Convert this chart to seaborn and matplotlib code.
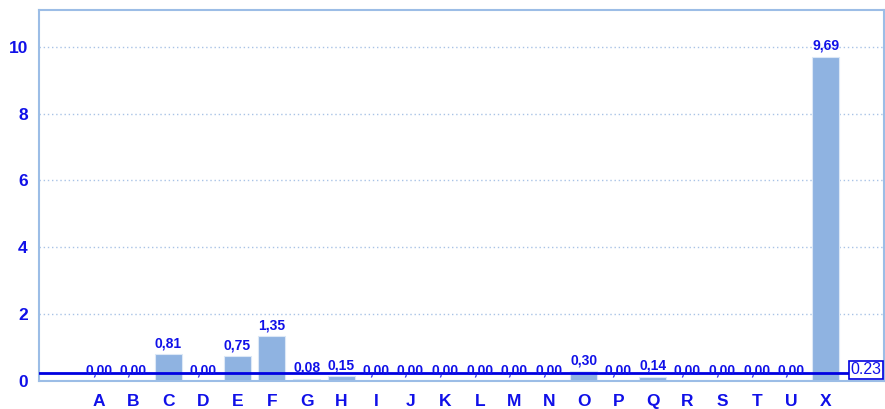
import matplotlib
matplotlib.use("Agg")
import matplotlib.pyplot as plt
import seaborn as sns
import pandas as pd

categories = ["A", "B", "C", "D", "E", "F", "G", "H", "I", "J", "K",
              "L", "M", "N", "O", "P", "Q", "R", "S", "T", "U", "X"]
values = [0.00, 0.00, 0.81, 0.00, 0.75, 1.35, 0.08, 0.15, 0.00, 0.00, 0.00,
          0.00, 0.00, 0.00, 0.30, 0.00, 0.14, 0.00, 0.00, 0.00, 0.00, 9.69]
reference_value = 0.23
y_ticks = [0, 2, 4, 6, 8, 10]

sns.set_style("white")
plt.rcParams["font.family"] = ["Liberation Sans", "DejaVu Sans"]

text_blue = "#1010e8"
frame_blue = "#9cbde6"
bar_blue = "#8fb3e1"

df = pd.DataFrame({"category": categories, "value": values})

fig = plt.figure(figsize=(8.85, 4.09), dpi=100)
ax = fig.add_axes([0.044, 0.068, 0.955, 0.908])

sns.barplot(data=df, x="category", y="value", color=bar_blue, width=0.78,
            saturation=1, ax=ax, zorder=2, edgecolor="#dce8f6", linewidth=0.8)

x_left = -1.73
x_right = len(categories) - 1 + 1.68
ax.set_xlim(x_left, x_right)
ax.set_ylim(0, 11.1)
ax.set_yticks(y_ticks)
ax.set_yticklabels([str(t) for t in y_ticks])
ax.set_xlabel("")
ax.set_ylabel("")

ax.yaxis.grid(True, linestyle=(0, (1, 2)), color="#a9c3e6", linewidth=1)
ax.set_axisbelow(True)

for spine in ax.spines.values():
    spine.set_visible(True)
    spine.set_color(frame_blue)
    spine.set_linewidth(1.5)

ax.tick_params(axis="both", colors=frame_blue, length=7, width=1.5,
               labelcolor=text_blue, labelsize=12.5)
ax.tick_params(axis="y", labelsize=12.5, pad=1)
ax.tick_params(axis="x", pad=2)
for lbl in ax.get_xticklabels() + ax.get_yticklabels():
    lbl.set_fontweight("bold")

for i, v in enumerate(values):
    ax.text(i, v + 0.12, f"{v:.2f}".replace(".", ","), ha="center", va="bottom",
            fontsize=10, fontweight="bold", color=text_blue, zorder=4)

# reference line ending at a boxed value on the right edge
x_end = len(categories) - 1 + 0.9
ax.plot([x_left, x_end], [reference_value, reference_value], color="#0000e0",
        linewidth=2, zorder=3)
ax.text(x_right - 0.08, 0.34, f"{reference_value:.2f}", ha="right",
        va="center", fontsize=11.5, color=text_blue, zorder=5,
        bbox=dict(boxstyle="square,pad=0.1", facecolor="white",
                  edgecolor="#0000e0", linewidth=1.2))

fig.savefig("out.png", dpi=100)
